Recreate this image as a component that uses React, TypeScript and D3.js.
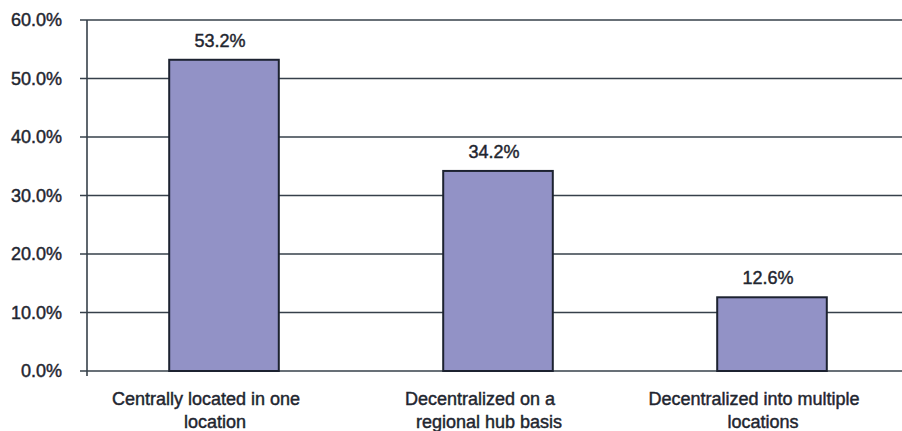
import React from "react";
import * as d3 from "d3";

const categories = [
  ["Centrally located in one", "location"],
  ["Decentralized on a", "regional hub basis"],
  ["Decentralized into multiple", "locations"],
];
const values = [0.532, 0.342, 0.126];
const yTicks = [0, 0.1, 0.2, 0.3, 0.4, 0.5, 0.6];

const W = 902;
const H = 431;
const margin = { left: 87, right: -7, top: 20, bottom: 60 };

// per-line horizontal nudge of wrapped category labels
const lineShift = [-18, -9];

export default function App() {
  const keys = categories.map((c) => c.join(" "));
  const x = d3
    .scaleBand<string>()
    .domain(keys)
    .range([margin.left, W - margin.right])
    .paddingInner(0.6)
    .paddingOuter(0.3);
  const y = d3
    .scaleLinear()
    .domain([0, 0.6])
    .range([H - margin.bottom, margin.top]);
  const fmt = d3.format(".1%");
  const font = "'Liberation Sans', Arial, sans-serif";
  const ink = "#1f2630";
  const grid = "#36404a";
  const textProps = {
    fontSize: 18,
    fill: ink,
    stroke: ink,
    strokeWidth: 0.45,
  };

  return (
    <svg
      width={W}
      height={H}
      style={{ position: "absolute", left: 0, top: 0, background: "#fff" }}
      fontFamily={font}
    >
      {yTicks.map((t) => (
        <g key={t}>
          <line
            x1={margin.left - 7}
            x2={W}
            y1={y(t)}
            y2={y(t)}
            stroke={grid}
            strokeWidth={1.6}
          />
          <text x={62} y={y(t)} dy="0.36em" textAnchor="end" {...textProps}>
            {fmt(t)}
          </text>
        </g>
      ))}
      <line
        x1={margin.left}
        x2={margin.left}
        y1={margin.top}
        y2={y(0) + 5}
        stroke={grid}
        strokeWidth={1.6}
      />
      {values.map((v, i) => {
        const bx = x(keys[i])!;
        const bw = x.bandwidth();
        const cx = bx + bw / 2;
        return (
          <g key={keys[i]}>
            <rect
              x={bx}
              y={y(v)}
              width={bw}
              height={y(0) - y(v)}
              fill="#9292c6"
              stroke="#1c2230"
              strokeWidth={2}
            />
            <text x={cx - 4} y={y(v) - 13} textAnchor="middle" {...textProps}>
              {fmt(v)}
            </text>
            {categories[i].map((line, j) => (
              <text
                key={j}
                x={cx + lineShift[j]}
                y={405 + j * 22.5}
                textAnchor="middle"
                {...textProps}
              >
                {line}
              </text>
            ))}
          </g>
        );
      })}
    </svg>
  );
}
